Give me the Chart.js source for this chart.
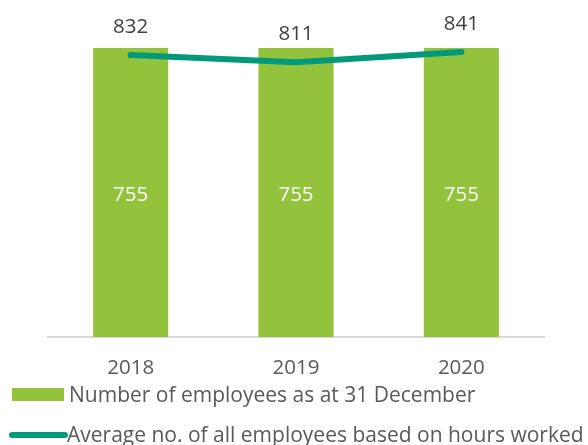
<!DOCTYPE html>
<html>
<head>
<meta charset="utf-8">
<script src="https://cdn.jsdelivr.net/npm/chart.js@4/dist/chart.umd.min.js"></script>
<style>
  html, body { margin: 0; padding: 0; background: #fff; }
  #wrap { width: 588px; height: 445px; }
</style>
</head>
<body>
<div id="wrap"><canvas id="chart"></canvas></div>
<script>
const years = ['2018', '2019', '2020']
const employeesAtYearEnd = [755, 755, 755]
const avgEmployeesHours = [832, 811, 841]

const barColor = '#93c23c'
const lineColor = '#009a7a'
const textFont = '"Open Sans", sans-serif'

// draws the value labels and the legend under the axis
const labelsPlugin = {
  id: 'valueLabels',
  afterDatasetsDraw(chart) {
    const ctx = chart.ctx
    ctx.save()
    ctx.font = '20.5px ' + textFont
    ctx.textAlign = 'center'
    ctx.textBaseline = 'middle'

    const barMeta = chart.getDatasetMeta(0)
    barMeta.data.forEach((el, i) => {
      ctx.fillStyle = '#ffffff'
      ctx.fillText(employeesAtYearEnd[i], el.x, (el.y + el.base) / 2 + 3)
    })

    const lineMeta = chart.getDatasetMeta(1)
    lineMeta.data.forEach((pt, i) => {
      ctx.fillStyle = '#404040'
      ctx.fillText(avgEmployeesHours[i], pt.x, pt.y - 28)
    })

    // legend
    ctx.font = '21px ' + textFont
    ctx.textAlign = 'left'
    ctx.fillStyle = barColor
    ctx.fillRect(12, 388, 52, 13)
    ctx.fillStyle = '#595959'
    ctx.fillText(chart.data.datasets[0].label, 69, 396)

    ctx.strokeStyle = lineColor
    ctx.lineWidth = 6
    ctx.lineCap = 'round'
    ctx.beginPath()
    ctx.moveTo(12, 435)
    ctx.lineTo(65, 435)
    ctx.stroke()
    ctx.fillStyle = '#595959'
    ctx.fillText(chart.data.datasets[1].label, 67, 436)
    ctx.restore()
  }
}

new Chart(document.getElementById('chart'), {
  type: 'bar',
  data: {
    labels: years,
    datasets: [
      {
        type: 'bar',
        label: 'Number of employees as at 31 December',
        data: employeesAtYearEnd,
        backgroundColor: barColor,
        categoryPercentage: 1,
        barPercentage: 0.454,
        yAxisID: 'y',
        order: 1
      },
      {
        type: 'line',
        label: 'Average no. of all employees based on hours worked',
        data: avgEmployeesHours,
        borderColor: lineColor,
        borderWidth: 6,
        borderCapStyle: 'round',
        borderJoinStyle: 'round',
        pointRadius: 0,
        tension: 0,
        fill: false,
        yAxisID: 'y2',
        order: 0
      }
    ]
  },
  options: {
    responsive: true,
    maintainAspectRatio: false,
    animation: false,
    layout: { padding: { left: 48, right: 44, top: 10, bottom: 68 } },
    scales: {
      x: {
        grid: { display: false, drawTicks: false },
        border: { display: true, color: '#d9d9d9', width: 2 },
        ticks: {
          color: '#595959',
          font: { family: textFont, size: 20.5 },
          padding: 19
        },
        afterFit: scale => { scale.height = 40 }
      },
      y: { display: false, min: 0, max: 854 },
      y2: { display: false, min: 0, max: 965 }
    },
    plugins: {
      legend: { display: false },
      tooltip: { enabled: false }
    }
  },
  plugins: [labelsPlugin]
})
</script>
</body>
</html>
